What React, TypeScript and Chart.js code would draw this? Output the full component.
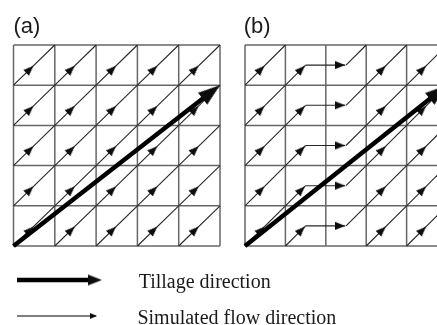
import { useEffect, useRef } from "react";
import { Chart, registerables } from "chart.js";

Chart.register(...registerables);

// ---- data ----
const GRID_LINES = [0, 1, 2, 3, 4, 5];
const CELL_COLS = [0, 1, 2, 3, 4];
const CELL_ROWS = [0, 1, 2, 3, 4];
const PANEL_LABELS = ["(a)", "(b)"];
// flow pattern of each column: diag = along tillage diagonal,
// turn = diverted horizontally, resume = continues diagonal after diversion
const FLOW_A = ["diag", "diag", "diag", "diag", "diag"];
const FLOW_B = ["diag", "turn", "resume", "diag", "diag"];
const TILLAGE_FROM = [0, 0];
const TILLAGE_TO = [5, 4];
const ARROW_TIP = 0.48;
const LEGEND_LABELS = ["Tillage direction", "Simulated flow direction"];

// ---- layout ----
const W = 437;
const H = 325;
const GRID_COLOR = "#666666";
const LINE_COLOR = "#262626";
const HEAD_COLOR = "#0d0d0d";

function makeHead(len: number, width: number) {
  const c = document.createElement("canvas");
  c.width = Math.ceil(width) + 2;
  c.height = Math.ceil(len * 2);
  const g = c.getContext("2d")!;
  const cx = c.width / 2;
  g.fillStyle = HEAD_COLOR;
  g.beginPath();
  g.moveTo(cx, len);
  g.lineTo(cx - width / 2, len * 2);
  g.lineTo(cx + width / 2, len * 2);
  g.closePath();
  g.fill();
  return c;
}

const rotation = (ctx: any) => {
  const raw = ctx.raw;
  const chart = ctx.chart;
  if (!raw || !chart || !ctx.dataset) return 0;
  const xs = chart.scales[ctx.dataset.xAxisID];
  const ys = chart.scales.y;
  if (!xs || !ys) return 0;
  const px = xs.getPixelForValue(raw.x + raw.dx) - xs.getPixelForValue(raw.x);
  const py = ys.getPixelForValue(raw.y + raw.dy) - ys.getPixelForValue(raw.y);
  return (Math.atan2(px, -py) * 180) / Math.PI;
};

function seg(axis: string, pts: number[][], color: string, width: number, order: number) {
  return {
    type: "scatter",
    xAxisID: axis,
    yAxisID: "y",
    showLine: true,
    data: pts.map(([x, y]) => ({ x, y })),
    borderColor: color,
    backgroundColor: color,
    borderWidth: width,
    borderCapStyle: "butt",
    pointRadius: 0,
    pointHoverRadius: 0,
    tension: 0,
    fill: false,
    order,
  };
}

function heads(axis: string, pts: any[], img: HTMLCanvasElement, order: number) {
  return {
    type: "scatter",
    xAxisID: axis,
    yAxisID: "y",
    showLine: false,
    data: pts,
    pointStyle: img,
    pointRadius: 14,
    pointHoverRadius: 14,
    pointRotation: rotation,
    borderWidth: 0,
    order,
  };
}

function panelDatasets(axis: string, flow: string[], smallHead: HTMLCanvasElement, bigHead: HTMLCanvasElement) {
  const ds: any[] = [];
  const last = GRID_LINES[GRID_LINES.length - 1];
  GRID_LINES.forEach((v) => {
    ds.push(seg(axis, [[v, 0], [v, last]], GRID_COLOR, 1.5, 5));
    ds.push(seg(axis, [[0, v], [last, v]], GRID_COLOR, 1.5, 5));
  });
  const headPts: any[] = [];
  CELL_ROWS.forEach((r) => {
    CELL_COLS.forEach((c) => {
      const kind = flow[c];
      if (kind === "diag") {
        ds.push(seg(axis, [[c, r], [c + 1, r + 1]], LINE_COLOR, 1.1, 4));
        headPts.push({ x: c + ARROW_TIP, y: r + ARROW_TIP, dx: 1, dy: 1 });
      } else if (kind === "turn") {
        ds.push(seg(axis, [[c, r], [c + 0.5, r + 0.5]], LINE_COLOR, 1.1, 4));
        headPts.push({ x: c + ARROW_TIP, y: r + ARROW_TIP, dx: 1, dy: 1 });
        ds.push(seg(axis, [[c + 0.5, r + 0.5], [c + 1 + ARROW_TIP, r + 0.5]], LINE_COLOR, 1.1, 4));
        headPts.push({ x: c + 1 + ARROW_TIP, y: r + 0.5, dx: 1, dy: 0 });
      } else if (kind === "resume") {
        ds.push(seg(axis, [[c + 0.5, r + 0.5], [c + 1, r + 1]], LINE_COLOR, 1.1, 4));
      }
    });
  });
  ds.push(heads(axis, headPts, smallHead, 3));
  // tillage arrow
  const [x0, y0] = TILLAGE_FROM;
  const [x1, y1] = TILLAGE_TO;
  const k = 0.965;
  ds.push(seg(axis, [[x0, y0], [x0 + (x1 - x0) * k, y0 + (y1 - y0) * k]], "#000000", 4.5, 1));
  ds.push(heads(axis, [{ x: x1, y: y1, dx: x1 - x0, dy: y1 - y0 }], bigHead, 0));
  return ds;
}

const textPlugin = {
  id: "panelText",
  afterDraw(chart: any) {
    const { ctx } = chart;
    const xa = chart.scales.xA;
    const xb = chart.scales.xB;
    const y = chart.scales.y;
    ctx.save();
    ctx.fillStyle = "#1a1a1a";
    ctx.textBaseline = "alphabetic";
    ctx.textAlign = "left";
    ctx.font = '22px "Liberation Sans", Arial, sans-serif';
    ctx.fillText(PANEL_LABELS[0], xa.getPixelForValue(0), y.getPixelForValue(5.3));
    ctx.fillText(PANEL_LABELS[1], xb.getPixelForValue(-0.03), y.getPixelForValue(5.3));
    ctx.font = '20px "Liberation Serif", "Times New Roman", serif';
    ctx.fillText(LEGEND_LABELS[0], xa.getPixelForValue(3.03), y.getPixelForValue(-1.045));
    ctx.fillText(LEGEND_LABELS[1], xa.getPixelForValue(3.0), y.getPixelForValue(-1.94));
    ctx.restore();
  },
};

export default function App() {
  const ref = useRef<HTMLCanvasElement | null>(null);
  useEffect(() => {
    if (!ref.current) return;
    const smallHead = makeHead(10, 8);
    const bigHead = makeHead(22, 15);
    const legendBig = makeHead(14, 11);
    const legendSmall = makeHead(7, 6);
    const datasets: any[] = [
      ...panelDatasets("xA", FLOW_A, smallHead, bigHead),
      ...panelDatasets("xB", FLOW_B, smallHead, bigHead),
      seg("xA", [[0.085, -0.846], [1.95, -0.846]], "#000000", 4.5, 1),
      heads("xA", [{ x: 2.14, y: -0.846, dx: 1, dy: 0 }], legendBig, 0),
      seg("xA", [[0.085, -1.74], [2.0, -1.74]], "#000000", 1.1, 1),
      heads("xA", [{ x: 2.02, y: -1.74, dx: 1, dy: 0 }], legendSmall, 0),
    ];
    const chart = new Chart(ref.current, {
      type: "scatter",
      data: { datasets },
      options: {
        animation: false,
        responsive: false,
        events: [],
        layout: { padding: 0, autoPadding: false },
        plugins: { legend: { display: false }, tooltip: { enabled: false }, title: { display: false } },
        scales: {
          xA: { type: "linear", display: false, min: -0.327, max: 10.254 },
          xB: { type: "linear", display: false, min: -6.064, max: 4.752 },
          y: { type: "linear", display: false, min: -1.965, max: 6.119 },
        },
      } as any,
      plugins: [textPlugin],
    } as any);
    return () => chart.destroy();
  }, []);
  return (
    <div style={{ position: "absolute", left: 0, top: 0, width: W, height: H, background: "#fff" }}>
      <canvas ref={ref} width={W} height={H} style={{ display: "block", width: W, height: H }} />
    </div>
  );
}
